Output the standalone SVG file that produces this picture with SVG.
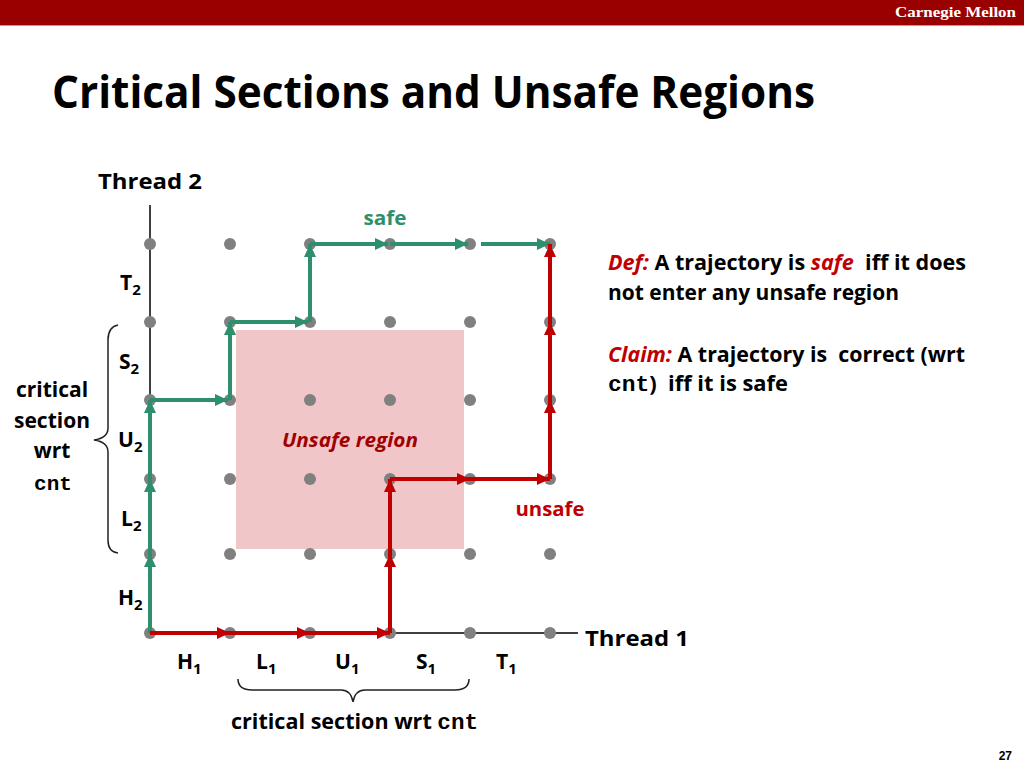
<svg xmlns="http://www.w3.org/2000/svg" width="1024" height="768" viewBox="0 0 1024 768">
<defs>
<style>
.b{font-family:"Open Sans","Noto Sans","Liberation Sans",sans-serif;font-weight:bold;fill:#000}
.lab{font-family:"Open Sans","Noto Sans","Liberation Sans",sans-serif;font-weight:bold;font-size:21px;fill:#000}
.m{font-family:"Liberation Mono","DejaVu Sans Mono",monospace;font-weight:bold}
.sub{font-size:15px}
.pre{white-space:pre}
.dot{fill:#808080}
.ga{stroke:#2e8f6c;stroke-width:4;fill:none;marker-end:url(#ag)}
.ra{stroke:#c00000;stroke-width:4;fill:none;marker-end:url(#ar)}
.axis{stroke:#404040;stroke-width:2}
.brace{stroke:#222;stroke-width:1.5;fill:none}
</style>
<marker id="ag" markerUnits="userSpaceOnUse" markerWidth="14" markerHeight="12" refX="13" refY="6" orient="auto"><path d="M0,0 L13,6 L0,12 z" fill="#2e8f6c"/></marker>
<marker id="ar" markerUnits="userSpaceOnUse" markerWidth="14" markerHeight="12" refX="13" refY="6" orient="auto"><path d="M0,0 L13,6 L0,12 z" fill="#c00000"/></marker>
</defs>
<rect width="1024" height="768" fill="#fff"/>
<g id="header">
<rect x="0" y="0" width="1024" height="25" fill="#990000"/>
<rect x="0" y="25" width="1024" height="1" fill="#d88"/>
<text x="1016" y="17" text-anchor="end" font-family="'Liberation Serif',serif" font-weight="bold" font-size="15" fill="#fff" textLength="121" lengthAdjust="spacingAndGlyphs">Carnegie Mellon</text>
<text class="b" x="52" y="108" font-size="44" textLength="763" lengthAdjust="spacingAndGlyphs">Critical Sections and Unsafe Regions</text>
</g>
<g id="unsafe-region">
<rect x="236" y="330" width="228" height="219" fill="#f0c6c8"/>
<text x="350" y="447" text-anchor="middle" font-family="'Open Sans','Noto Sans',sans-serif" font-weight="bold" font-style="italic" font-size="20" fill="#a00000" textLength="136" lengthAdjust="spacingAndGlyphs">Unsafe region</text>
</g>
<g id="axes">
<line class="axis" x1="150" y1="205" x2="150" y2="633"/>
<line class="axis" x1="150" y1="633" x2="578" y2="633"/>
<text class="b" x="98" y="189" font-size="22" textLength="104" lengthAdjust="spacingAndGlyphs">Thread 2</text>
<text class="b" x="585" y="646" font-size="22" textLength="104" lengthAdjust="spacingAndGlyphs">Thread 1</text>
</g>
<g id="grid">
<circle class="dot" cx="150" cy="244" r="6"/><circle class="dot" cx="230" cy="244" r="6"/><circle class="dot" cx="310" cy="244" r="6"/><circle class="dot" cx="390" cy="244" r="6"/><circle class="dot" cx="470" cy="244" r="6"/><circle class="dot" cx="550" cy="244" r="6"/>
<circle class="dot" cx="150" cy="322" r="6"/><circle class="dot" cx="230" cy="322" r="6"/><circle class="dot" cx="310" cy="322" r="6"/><circle class="dot" cx="390" cy="322" r="6"/><circle class="dot" cx="470" cy="322" r="6"/><circle class="dot" cx="550" cy="322" r="6"/>
<circle class="dot" cx="150" cy="400" r="6"/><circle class="dot" cx="230" cy="400" r="6"/><circle class="dot" cx="310" cy="400" r="6"/><circle class="dot" cx="390" cy="400" r="6"/><circle class="dot" cx="470" cy="400" r="6"/><circle class="dot" cx="550" cy="400" r="6"/>
<circle class="dot" cx="150" cy="479" r="6"/><circle class="dot" cx="230" cy="479" r="6"/><circle class="dot" cx="310" cy="479" r="6"/><circle class="dot" cx="390" cy="479" r="6"/><circle class="dot" cx="470" cy="479" r="6"/><circle class="dot" cx="550" cy="479" r="6"/>
<circle class="dot" cx="150" cy="554" r="6"/><circle class="dot" cx="230" cy="554" r="6"/><circle class="dot" cx="310" cy="554" r="6"/><circle class="dot" cx="390" cy="554" r="6"/><circle class="dot" cx="470" cy="554" r="6"/><circle class="dot" cx="550" cy="554" r="6"/>
<circle class="dot" cx="150" cy="633" r="6"/><circle class="dot" cx="230" cy="633" r="6"/><circle class="dot" cx="310" cy="633" r="6"/><circle class="dot" cx="390" cy="633" r="6"/><circle class="dot" cx="470" cy="633" r="6"/><circle class="dot" cx="550" cy="633" r="6"/>
</g>
<g id="connectors">
<line class="ga" x1="150" y1="633" x2="150" y2="554"/>
<line class="ga" x1="150" y1="554" x2="150" y2="479"/>
<line class="ga" x1="150" y1="479" x2="150" y2="400"/>
<line class="ga" x1="150" y1="400" x2="228" y2="400"/>
<line class="ga" x1="230" y1="400" x2="230" y2="322"/>
<line class="ga" x1="230" y1="322" x2="308" y2="322"/>
<line class="ga" x1="310" y1="322" x2="310" y2="244"/>
<line class="ga" x1="310" y1="244" x2="388" y2="244"/>
<line class="ga" x1="390" y1="244" x2="468" y2="244"/>
<line class="ga" x1="481" y1="244" x2="550" y2="244"/>
<line class="ra" x1="150" y1="633" x2="230" y2="633"/>
<line class="ra" x1="230" y1="633" x2="310" y2="633"/>
<line class="ra" x1="310" y1="633" x2="390" y2="633"/>
<line class="ra" x1="390" y1="633" x2="390" y2="554"/>
<line class="ra" x1="390" y1="554" x2="390" y2="479"/>
<line class="ra" x1="390" y1="479" x2="470" y2="479"/>
<line class="ra" x1="470" y1="479" x2="550" y2="479"/>
<line class="ra" x1="550" y1="479" x2="550" y2="400"/>
<line class="ra" x1="550" y1="400" x2="550" y2="322"/>
<line class="ra" x1="550" y1="322" x2="550" y2="244"/>
<text x="385" y="225" text-anchor="middle" font-family="'Open Sans','Noto Sans',sans-serif" font-weight="bold" font-size="20" fill="#2e8f6c" textLength="43" lengthAdjust="spacingAndGlyphs">safe</text>
<text x="550" y="516" text-anchor="middle" font-family="'Open Sans','Noto Sans',sans-serif" font-weight="bold" font-size="20" fill="#c00000" textLength="69" lengthAdjust="spacingAndGlyphs">unsafe</text>
</g>
<g id="thread2-labels">
<text class="lab" x="120" y="290">T<tspan class="sub" dy="5">2</tspan></text>
<text class="lab" x="119" y="369">S<tspan class="sub" dy="5">2</tspan></text>
<text class="lab" x="118" y="447">U<tspan class="sub" dy="5">2</tspan></text>
<text class="lab" x="121" y="526">L<tspan class="sub" dy="5">2</tspan></text>
<text class="lab" x="118" y="605">H<tspan class="sub" dy="5">2</tspan></text>
</g>
<g id="thread1-labels">
<text class="lab" x="177" y="669">H<tspan class="sub" dy="5">1</tspan></text>
<text class="lab" x="256" y="669">L<tspan class="sub" dy="5">1</tspan></text>
<text class="lab" x="335" y="669">U<tspan class="sub" dy="5">1</tspan></text>
<text class="lab" x="416" y="669">S<tspan class="sub" dy="5">1</tspan></text>
<text class="lab" x="496" y="669">T<tspan class="sub" dy="5">1</tspan></text>
</g>
<g id="crit-left">
<path class="brace" d="M118,325 Q108,327 108,340 L108,428 Q108,438 94,440 Q108,442 108,452 L108,540 Q108,552 118,553"/>
<text class="lab" x="52" y="397" text-anchor="middle" font-size="20">critical</text>
<text class="lab" x="52" y="428" text-anchor="middle" font-size="20">section</text>
<text class="lab" x="52" y="458" text-anchor="middle" font-size="20">wrt</text>
<text class="lab m" x="53" y="490" text-anchor="middle" font-size="23">cnt</text>
</g>
<g id="crit-bottom">
<path class="brace" d="M238,679 Q238,690 252,690 L341,690 Q351,690 353,702 Q355,690 365,690 L455,690 Q469,690 469,679"/>
<text class="lab" x="231" y="729" font-size="20" textLength="247" lengthAdjust="spacingAndGlyphs">critical section wrt <tspan class="m" font-size="22">cnt</tspan></text>
</g>
<g id="definition">
<text class="lab pre" x="608" y="270" font-size="20" textLength="358" lengthAdjust="spacingAndGlyphs"><tspan fill="#c00000" font-style="italic">Def:</tspan> A trajectory is <tspan fill="#c00000" font-style="italic">safe</tspan>  iff it does</text>
<text class="lab" x="608" y="300" font-size="20" textLength="291" lengthAdjust="spacingAndGlyphs">not enter any unsafe region</text>
<text class="lab pre" x="608" y="362" font-size="20" textLength="357" lengthAdjust="spacingAndGlyphs"><tspan fill="#c00000" font-style="italic">Claim:</tspan> A trajectory is  correct (wrt</text>
<text class="lab pre" x="608" y="391" font-size="20" textLength="180" lengthAdjust="spacingAndGlyphs"><tspan class="m" font-size="22">cnt</tspan>)  iff it is safe</text>
</g>
<text x="1012" y="760" text-anchor="end" font-family="'Liberation Sans Narrow','Liberation Sans',sans-serif" font-weight="bold" font-size="12" fill="#000">27</text>
</svg>
